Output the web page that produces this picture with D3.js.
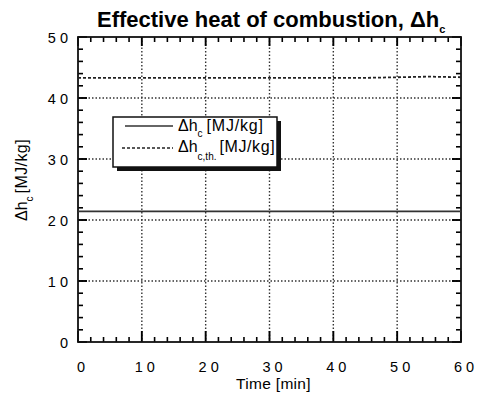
<!DOCTYPE html>
<html>
<head>
<meta charset="utf-8">
<script src="https://cdn.jsdelivr.net/npm/d3@7"></script>
<style>
  body { margin: 0; background: #fff; }
  svg text { font-family: "Liberation Sans", Arial, sans-serif; fill: #000; }
</style>
</head>
<body>
<div id="chart"></div>
<script>
'use strict'
// values
const times = [0, 5, 10, 15, 20, 25, 30, 35, 40, 45, 50, 55, 60];
const dhc = [21.4, 21.4, 21.4, 21.4, 21.4, 21.4, 21.4, 21.4, 21.4, 21.4, 21.4, 21.4, 21.4];
const dhcTh = [43.3, 43.3, 43.3, 43.3, 43.3, 43.3, 43.3, 43.3, 43.3, 43.3, 43.4, 43.5, 43.4];
const xTicks = [0, 10, 20, 30, 40, 50, 60];
const yTicks = [0, 10, 20, 30, 40, 50];

const width = 482, height = 396;
const m = {left: 78, right: 21, top: 37, bottom: 54};
const w = width - m.left - m.right, h = height - m.top - m.bottom;

const svg = d3.select('#chart').append('svg')
    .attr('width', width).attr('height', height);

const x = d3.scaleLinear().domain([0, 60]).range([0, w]);
const y = d3.scaleLinear().domain([0, 50]).range([h, 0]);
const g = svg.append('g').attr('transform', `translate(${m.left},${m.top})`);

const spaced = d => String(d).split('').join(' ');

// dotted grid
g.append('g').selectAll('line').data(xTicks.slice(1, -1)).enter().append('line')
    .attr('x1', d => x(d)).attr('x2', d => x(d)).attr('y1', 0).attr('y2', h)
    .attr('stroke', '#333').attr('stroke-width', 1.4).attr('stroke-dasharray', '1.5,2');
g.append('g').selectAll('line').data(yTicks.slice(1, -1)).enter().append('line')
    .attr('y1', d => y(d)).attr('y2', d => y(d)).attr('x1', 0).attr('x2', w)
    .attr('stroke', '#333').attr('stroke-width', 1.4).attr('stroke-dasharray', '1.5,2');

// inward ticks on all four sides, minor every 2 units, major every 10
const xMinor = d3.range(0, 61, 2), yMinor = d3.range(0, 51, 2);
const len = (d, big) => (d % 10 === 0 ? big : 5);
function tickLines(data, cls, fn) {
  g.selectAll('line.' + cls).data(data).enter().append('line')
      .attr('class', cls)
      .attr('stroke', '#000').attr('stroke-width', d => (d % 10 === 0 ? 1.9 : 1.6))
      .each(function(d) { const p = fn(d); d3.select(this).attr('x1', p[0]).attr('y1', p[1]).attr('x2', p[2]).attr('y2', p[3]); });
}
tickLines(xMinor, 'xb', d => [x(d), h, x(d), h - len(d, 11)]);
tickLines(xMinor, 'xt', d => [x(d), 0, x(d), len(d, 9)]);
tickLines(yMinor, 'yl', d => [0, y(d), len(d, 9), y(d)]);
tickLines(yMinor, 'yr', d => [w, y(d), w - len(d, 9), y(d)]);

// frame
g.append('rect').attr('width', w).attr('height', h)
    .attr('fill', 'none').attr('stroke', '#111').attr('stroke-width', 1.8);

// tick labels
g.append('g').selectAll('text').data(yTicks).enter().append('text')
    .attr('x', -10).attr('y', d => y(d)).attr('dy', '0.4em')
    .attr('text-anchor', 'end').style('font-size', '14.5px')
    .text(spaced);
g.append('g').selectAll('text').data(xTicks).enter().append('text')
    .attr('x', d => x(d) + 3).attr('y', h + 30)
    .attr('text-anchor', 'middle').style('font-size', '14.5px')
    .text(spaced);

// data lines
const line = d3.line().x((d, i) => x(times[i])).y(d => y(d));
g.append('path').datum(dhc).attr('d', line)
    .attr('fill', 'none').attr('stroke', '#333').attr('stroke-width', 1.7);
g.append('path').datum(dhcTh).attr('d', line)
    .attr('fill', 'none').attr('stroke', '#222').attr('stroke-width', 1.8)
    .attr('stroke-dasharray', '3,2');

// legend with drop shadow
const lg = svg.append('g').attr('transform', 'translate(113,117)');
lg.append('rect').attr('x', 4).attr('y', 4).attr('width', 164).attr('height', 50).attr('fill', '#111');
lg.append('rect').attr('width', 164).attr('height', 50)
    .attr('fill', '#fff').attr('stroke', '#111').attr('stroke-width', 1.5);
lg.append('line').attr('x1', 12).attr('x2', 60).attr('y1', 9).attr('y2', 9)
    .attr('stroke', '#333').attr('stroke-width', 1.4);
lg.append('line').attr('x1', 9).attr('x2', 60).attr('y1', 31).attr('y2', 31)
    .attr('stroke', '#222').attr('stroke-width', 1.7).attr('stroke-dasharray', '3,2');
const t1 = lg.append('text').attr('x', 65).attr('y', 14).style('font-size', '16px');
t1.append('tspan').text('Δh');
t1.append('tspan').attr('dy', 6).style('font-size', '10px').text('c');
t1.append('tspan').attr('dy', -6).attr('dx', 4).style('letter-spacing', '0.8px').text('[MJ/kg]');
const t2 = lg.append('text').attr('x', 65).attr('y', 35).style('font-size', '16px');
t2.append('tspan').text('Δh');
t2.append('tspan').attr('dy', 8).style('font-size', '10px').text('c,th.');
t2.append('tspan').attr('dy', -8).attr('dx', 3).style('letter-spacing', '0.6px').text('[MJ/kg]');

// title
const tt = svg.append('text').attr('x', 97).attr('y', 27)
    .style('font-size', '22px').style('font-weight', 'bold');
tt.append('tspan').text('Effective heat of combustion, Δh');
tt.append('tspan').attr('dy', 6).style('font-size', '11px').text('c');

// axis titles
svg.append('text').attr('x', m.left + w / 2 + 4).attr('y', 389)
    .attr('text-anchor', 'middle').style('font-size', '15.5px').style('letter-spacing', '0.3px')
    .text('Time [min]');
const yt = svg.append('text').attr('transform', 'translate(27,180) rotate(-90)')
    .attr('text-anchor', 'middle').style('font-size', '16px');
yt.append('tspan').text('Δh');
yt.append('tspan').attr('dy', 6).style('font-size', '10px').text('c');
yt.append('tspan').attr('dy', -6).attr('dx', 3).style('letter-spacing', '0.4px').text('[MJ/kg]');
</script>
</body>
</html>
